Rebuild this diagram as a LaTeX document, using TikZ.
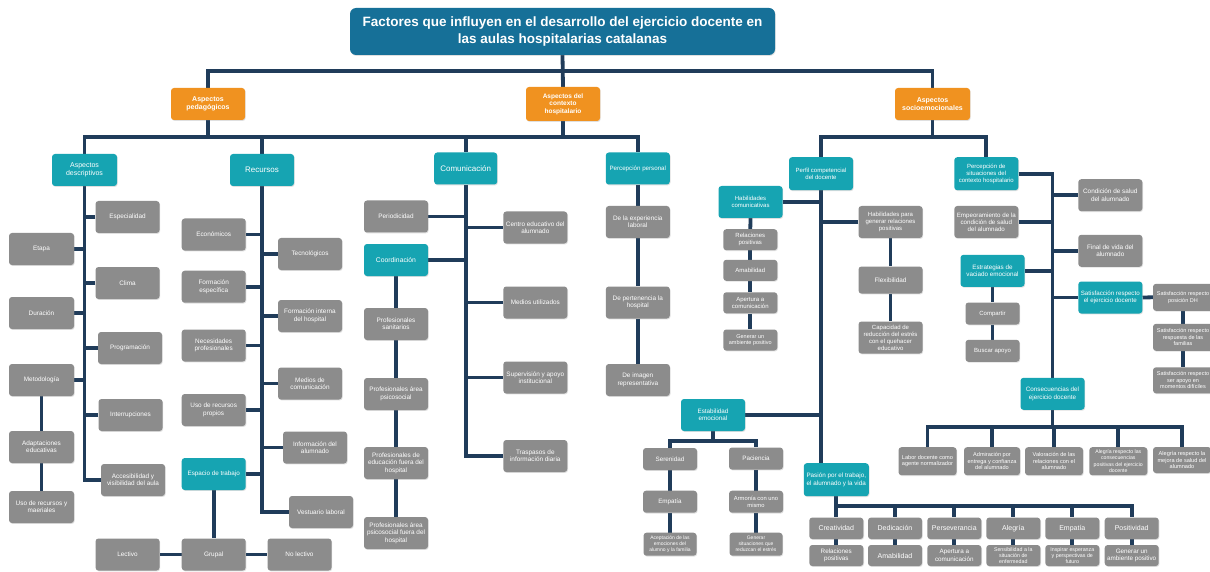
\documentclass[tikz,border=0pt]{standalone}
\usepackage{fontspec}
\setmainfont{Liberation Sans}
\usetikzlibrary{shadows,backgrounds}
\definecolor{ctitle}{RGB}{22,112,152}
\definecolor{corange}{RGB}{240,146,32}
\definecolor{cteal}{RGB}{22,164,178}
\definecolor{cgray}{RGB}{140,140,140}
\definecolor{cline}{RGB}{32,60,90}
\tikzset{
  base/.style={rounded corners=3pt, text=white, align=center, inner sep=1pt,
    drop shadow={shadow xshift=0.7pt, shadow yshift=-0.9pt, opacity=0.25}},
  gbox/.style={base, fill=cgray, font=\fontsize{6.4}{7.4}\selectfont},
  tbox/.style={base, fill=cteal, font=\fontsize{6.5}{7.6}\selectfont},
  obox/.style={base, fill=corange, font=\bfseries\fontsize{7}{8}\selectfont},
  sz/.style 2 args={minimum width=#1pt, minimum height=#2pt},
  fs/.style 2 args={font=\fontsize{#1}{#2}\selectfont},
  ln/.style={draw=cline, line width=3.8pt},
}
\begin{document}
\begin{tikzpicture}[x=1pt,y=-1pt]
\useasboundingbox (0,0) rectangle (1210,572);
% ---- top
\node[base, fill=ctitle, rounded corners=6pt, sz={425}{47}, font=\bfseries\fontsize{13.5}{17}\selectfont] (title) at (562.5,31.5)
  {Factores que influyen en el desarrollo del ejercicio docente en\\las aulas hospitalarias catalanas};
\node[obox, sz={74}{32}] (ped) at (208,104) {Aspectos\\pedagógicos};
\node[obox, sz={74}{34}, font=\bfseries\fontsize{6.5}{7.5}\selectfont] (ctx) at (563,104) {Aspectos del\\contexto\\hospitalario};
\node[obox, sz={75}{32}] (soc) at (932.5,104) {Aspectos\\socioemocionales};
\coordinate (b0) at (0,70.7);
\coordinate (b1) at (0,137);
\coordinate (be) at (0,440.7);
\coordinate (bp) at (0,506);
\coordinate (bc) at (0,427.3);
% ---- descriptivos
\node[tbox, sz={65}{32}, fs={7}{8}] (desc) at (84.5,170) {Aspectos\\descriptivos};
\node[gbox, sz={64}{32}] (esp) at (127.5,217) {Especialidad};
\node[gbox, sz={65}{32}] (etapa) at (41.5,249) {Etapa};
\node[gbox, sz={64}{32}] (clima) at (127.5,283) {Clima};
\node[gbox, sz={65}{32}] (dur) at (41.5,313) {Duración};
\node[gbox, sz={64}{32}] (prog) at (130,348) {Programación};
\node[gbox, sz={65}{32}] (met) at (41.5,380) {Metodología};
\node[gbox, sz={64}{32}] (intr) at (130.5,415) {Interrupciones};
\node[gbox, sz={64}{32}] (acc) at (133,480) {Accesibilidad y\\visibilidad del aula};
\node[gbox, sz={65}{32}] (adap) at (41.5,447) {Adaptaciones\\educativas};
\node[gbox, sz={65}{32}] (usorm) at (41.5,507) {Uso de recursos y\\maeriales};
% ---- recursos
\node[tbox, sz={64}{32}, fs={8}{9}] (rec) at (262,170) {Recursos};
\node[gbox, sz={64}{32}] (eco) at (213.7,234.5) {Económicos};
\node[gbox, sz={64}{32}] (tec) at (310,254) {Tecnológicos};
\node[gbox, sz={64}{32}] (fesp) at (213.7,286.7) {Formación\\específica};
\node[gbox, sz={64}{32}] (fint) at (310,316) {Formación interna\\del hospital};
\node[gbox, sz={64}{32}] (nec) at (213.7,345.5) {Necesidades\\profesionales};
\node[gbox, sz={64}{32}] (med) at (310,383.5) {Medios de\\comunicación};
\node[gbox, sz={64}{32}] (usop) at (213.7,410) {Uso de recursos\\propios};
\node[gbox, sz={64}{32}] (info) at (315,447.5) {Información del\\alumnado};
\node[tbox, sz={64}{32}, fs={6.3}{7.3}] (espt) at (213.7,474) {Espacio de trabajo};
\node[gbox, sz={64}{32}] (vest) at (321,512) {Vestuario laboral};
\node[gbox, sz={64}{32}] (grup) at (213.7,554.5) {Grupal};
\node[gbox, sz={64}{32}] (lect) at (127.5,554.5) {Lectivo};
\node[gbox, sz={64}{32}] (nolect) at (299.5,554.5) {No lectivo};
% ---- comunicacion
\node[tbox, sz={63}{32}, fs={8}{9}] (com) at (465.7,168.5) {Comunicación};
\node[gbox, sz={64}{32}] (peri) at (396,216.5) {Periodicidad};
\node[gbox, sz={64}{32}] (ced) at (535.3,227.5) {Centro educativo del\\alumnado};
\node[tbox, sz={64}{32}, fs={6.8}{8}] (coord) at (396,260) {Coordinación};
\node[gbox, sz={64}{32}] (medu) at (535.3,302.5) {Medios utilizados};
\node[gbox, sz={64}{32}] (psan) at (396,324) {Profesionales\\sanitarios};
\node[gbox, sz={64}{32}] (psic) at (396,394) {Profesionales área\\psicosocial};
\node[gbox, sz={64}{32}] (pedu) at (396,463) {Profesionales de\\educación fuera del\\hospital};
\node[gbox, sz={64}{32}] (psicf) at (396,533) {Profesionales área\\psicosocial fuera del\\hospital};
\node[gbox, sz={64}{32}] (sup) at (535.3,377.5) {Supervisión y apoyo\\institucional};
\node[gbox, sz={64}{32}] (tras) at (535.3,456) {Traspasos de\\información diaria};
% ---- percepcion personal
\node[tbox, sz={64}{32}, fs={6.2}{7.3}] (pper) at (637.8,168.5) {Percepción personal};
\node[gbox, sz={64}{32}] (pexp) at (637.8,222) {De la experiencia\\laboral};
\node[gbox, sz={64}{32}] (ppert) at (637.8,302.5) {De pertenencia la\\hospital};
\node[gbox, sz={64}{32}] (pimg) at (637.8,380) {De imagen\\representativa};
% ---- perfil competencial
\node[tbox, sz={64}{33}, fs={6}{7.2}] (perf) at (821,173.7) {Perfil competencial\\del docente};
\node[tbox, sz={64}{32}, fs={6}{7.2}] (hcom) at (750.5,202) {Habilidades\\comunicativas};
\node[gbox, sz={64}{32}, fs={6}{7}] (hgen) at (890.5,222) {Habilidades para\\generar relaciones\\positivas};
\node[tbox, sz={64}{32}, fs={6.3}{7.4}] (estab) at (713,415) {Estabilidad\\emocional};
\node[tbox, sz={65}{33}, fs={6.3}{7.6}] (pas) at (836.3,479.7) {Pasión por el trabajo,\\el alumnado y la vida};
\node[gbox, sz={54}{21}, fs={6}{7}] (rp1) at (750.3,239.7) {Relaciones\\positivas};
\node[gbox, sz={54}{21}, fs={6}{7}] (am1) at (750.3,270.3) {Amabilidad};
\node[gbox, sz={54}{21}, fs={6}{7}] (ap1) at (750.3,302.8) {Apertura a\\comunicación};
\node[gbox, sz={54}{21}, fs={5.5}{6.5}] (gen1) at (750.3,340) {Generar un\\ambiente positivo};
\node[gbox, sz={64}{27}] (flex) at (890.5,280) {Flexibilidad};
\node[gbox, sz={64}{32}, fs={6}{7}] (capr) at (890.5,337.5) {Capacidad de\\reducción del estrés\\con el quehacer\\educativo};
\node[gbox, sz={54}{22}, fs={6.3}{7.3}] (ser) at (670,459) {Serenidad};
\node[gbox, sz={54}{22}, fs={6.3}{7.3}] (pac) at (756,458.5) {Paciencia};
\node[gbox, sz={54}{22}, fs={6.3}{7.3}] (empa) at (670,501.7) {Empatía};
\node[gbox, sz={54}{22}, fs={5.8}{6.8}] (arm) at (756,501.7) {Armonía con uno\\mismo};
\node[gbox, sz={53}{23}, fs={5}{6}] (acep) at (670,544.2) {Aceptación de las\\emociones del\\alumno y la familia};
\node[gbox, sz={53}{23}, fs={5}{6}] (gsit) at (756,544.2) {Generar\\situaciones que\\reduzcan el estrés};
% pasion row
\node[gbox, sz={54}{21.5}, fs={7}{8}] (crea) at (836.3,528.3) {Creatividad};
\node[gbox, sz={54}{21.5}, fs={7}{8}] (dedi) at (895,528.3) {Dedicación};
\node[gbox, sz={54}{21.5}, fs={7}{8}] (pers) at (954.3,528.3) {Perseverancia};
\node[gbox, sz={54}{21.5}, fs={7}{8}] (aleg) at (1013.3,528.3) {Alegría};
\node[gbox, sz={54}{21.5}, fs={7}{8}] (empt) at (1072.3,528.3) {Empatía};
\node[gbox, sz={54}{21.5}, fs={7}{8}] (posi) at (1131.7,528.3) {Positividad};
\node[gbox, sz={54}{21}, fs={6.3}{7.3}] (rp2) at (836.3,555.5) {Relaciones\\positivas};
\node[gbox, sz={54}{21}, fs={7}{8}] (am2) at (895,555.5) {Amabilidad};
\node[gbox, sz={54}{21}, fs={6.3}{7.3}] (ap2) at (954.3,555.5) {Apertura a\\comunicación};
\node[gbox, sz={54}{21}, fs={5.3}{6.2}] (sens) at (1013.3,555.5) {Sensibilidad a la\\situación de\\enfermedad};
\node[gbox, sz={54}{21}, fs={5.3}{6.2}] (insp) at (1072.3,555.5) {Inspirar esperanza\\y perspectivas de\\futuro};
\node[gbox, sz={54}{21}, fs={6.3}{7.3}] (gen2) at (1131.7,555.5) {Generar un\\ambiente positivo};
% ---- percepcion situaciones
\node[tbox, sz={64}{33}, fs={6}{7.2}] (psit) at (986.3,173.7) {Percepción de\\situaciones del\\contexto hospitalario};
\node[gbox, sz={64}{32}] (cond) at (1110.3,195.2) {Condición de salud\\del alumnado};
\node[gbox, sz={64}{32}, fs={6.2}{7.2}] (empe) at (986.3,222) {Empeoramiento de la\\condición de salud\\del alumnado};
\node[gbox, sz={64}{32}] (fin) at (1110.3,250.8) {Final de vida del\\alumnado};
\node[tbox, sz={64}{32}, fs={6.3}{7.4}] (estr) at (992.5,270.8) {Estrategias de\\vaciado emocional};
\node[tbox, sz={64}{32}, fs={6.2}{7.4}] (satis) at (1110.3,297.5) {Satisfacción respecto\\el ejercicio docente};
\node[gbox, sz={54}{22}, fs={6}{7}] (comp) at (992.5,313.5) {Compartir};
\node[gbox, sz={54}{22}, fs={6}{7}] (busc) at (992.5,350.8) {Buscar apoyo};
\node[gbox, sz={60}{27}, fs={5.5}{6.5}] (sdh) at (1183,297.3) {Satisfacción respecto\\posición DH};
\node[gbox, sz={60}{27}, fs={5.5}{6.5}] (sfam) at (1183,337.3) {Satisfacción respecto\\respuesta de las\\familias};
\node[gbox, sz={60}{26}, fs={5.5}{6.5}] (sapo) at (1183,380.3) {Satisfacción respecto\\ser apoyo en\\momentos difíciles};
\node[tbox, sz={64}{32}, fs={6.3}{7.4}] (cons) at (1052.5,393.8) {Consecuencias del\\ejercicio docente};
\node[gbox, sz={58}{28}, fs={5.6}{6.6}] (lab) at (927.5,461.2) {Labor docente como\\agente normalizador};
\node[gbox, sz={56}{28}, fs={5.6}{6.6}] (adm) at (992,461.2) {Admiración por\\entrega y confianza\\del alumnado};
\node[gbox, sz={58}{28}, fs={5.6}{6.6}] (val) at (1054,461.2) {Valoración de las\\relaciones con el\\alumnado};
\node[gbox, sz={58}{28}, fs={5.2}{6.2}] (alr) at (1118.3,461.2) {Alegría respecto las\\consecuencias\\positivas del ejercicio\\docente};
\node[gbox, sz={58}{26}, fs={5.6}{6.6}] (alm) at (1182,460) {Alegría respecto la\\mejora de salud del\\alumnado};
% ---- connectors
\begin{scope}[on background layer]
\fill[white] (0,0) rectangle (1210,572);
\draw[ln] (title.south) -- (title.south |- b0) -| (ped.north);
\draw[ln] (title.south |- b0) -| (soc.north);
\draw[ln] (title.south) -- (ctx.north);
\draw[ln] (ped.south) -- (ped.south |- b1) -| (desc.north);
\draw[ln] (ped.south |- b1) -| (rec.north);
\draw[ln] (rec.north |- b1) -- (com.north |- b1);
\draw[ln] (ctx.south) -- (ctx.south |- b1) -| (com.north);
\draw[ln] (ctx.south |- b1) -| (pper.north);
\draw[ln] (soc.south) -- (soc.south |- b1) -| (perf.north);
\draw[ln] (soc.south |- b1) -| (psit.north);
% descriptivos
\draw[ln] (desc.south) |- (acc.west);
\foreach \n in {esp,clima,prog,intr} \draw[ln] (\n.west) -- (\n.west -| desc.south);
\foreach \n in {etapa,dur,met} \draw[ln] (\n.east) -- (\n.east -| desc.south);
\draw[ln] (met.south) -- (adap.north);
\draw[ln] (adap.south) -- (usorm.north);
% recursos
\draw[ln] (rec.south) |- (vest.west);
\foreach \n in {tec,fint,med,info} \draw[ln] (\n.west) -- (\n.west -| rec.south);
\foreach \n in {eco,fesp,nec,usop,espt} \draw[ln] (\n.east) -- (\n.east -| rec.south);
\draw[ln] (espt.south) -- (grup.north);
\draw[ln] (grup.west) -- (lect.east);
\draw[ln] (grup.east) -- (nolect.west);
% comunicacion
\draw[ln] (com.south) |- (tras.west);
\foreach \n in {ced,medu,sup} \draw[ln] (\n.west) -- (\n.west -| com.south);
\foreach \n in {peri,coord} \draw[ln] (\n.east) -- (\n.east -| com.south);
\draw[ln] (coord.south) -- (psan.north);
\draw[ln] (psan.south) -- (psic.north);
\draw[ln] (psic.south) -- (pedu.north);
\draw[ln] (pedu.south) -- (psicf.north);
% percepcion personal
\draw[ln] (pper.south) -- (pexp.north);
\draw[ln] (pexp.south) -- (ppert.north);
\draw[ln] (ppert.south) -- (pimg.north);
% perfil
\draw[ln] (perf.south) -- (perf.south |- pas.north);
\foreach \n in {hcom,estab} \draw[ln] (\n.east) -- (\n.east -| perf.south);
\draw[ln] (hgen.west) -- (hgen.west -| perf.south);
\draw[ln] (hcom.south) -- (rp1.north);
\draw[ln] (rp1.south) -- (am1.north);
\draw[ln] (am1.south) -- (ap1.north);
\draw[ln] (ap1.south) -- (gen1.north);
\draw[ln] (hgen.south) -- (flex.north);
\draw[ln] (flex.south) -- (capr.north);
\draw[ln] (estab.south) -- (estab.south |- be) -| (ser.north);
\draw[ln] (estab.south |- be) -| (pac.north);
\draw[ln] (ser.south) -- (empa.north);
\draw[ln] (empa.south) -- (acep.north);
\draw[ln] (pac.south) -- (arm.north);
\draw[ln] (arm.south) -- (gsit.north);
\foreach \a/\b in {crea/rp2,dedi/am2,pers/ap2,aleg/sens,empt/insp,posi/gen2} {
  \draw[ln] (pas.south) -- (pas.south |- bp) -| (\a.north);
  \draw[ln] (\a.south) -- (\b.north);
}
% percepcion situaciones
\draw[ln] (psit.east) -| (cons.north);
\foreach \n in {cond,fin,satis} \draw[ln] (\n.west) -- (\n.west -| cons.north);
\foreach \n in {empe,estr} \draw[ln] (\n.east) -- (\n.east -| cons.north);
\draw[ln] (estr.south) -- (comp.north);
\draw[ln] (comp.south) -- (busc.north);
\draw[ln] (satis.east) -- (sdh.west);
\draw[ln] (sdh.south) -- (sfam.north);
\draw[ln] (sfam.south) -- (sapo.north);
\foreach \n in {lab,adm,val,alr,alm}
  \draw[ln] (cons.south) -- (cons.south |- bc) -| (\n.north);
\end{scope}
\end{tikzpicture}
\end{document}
